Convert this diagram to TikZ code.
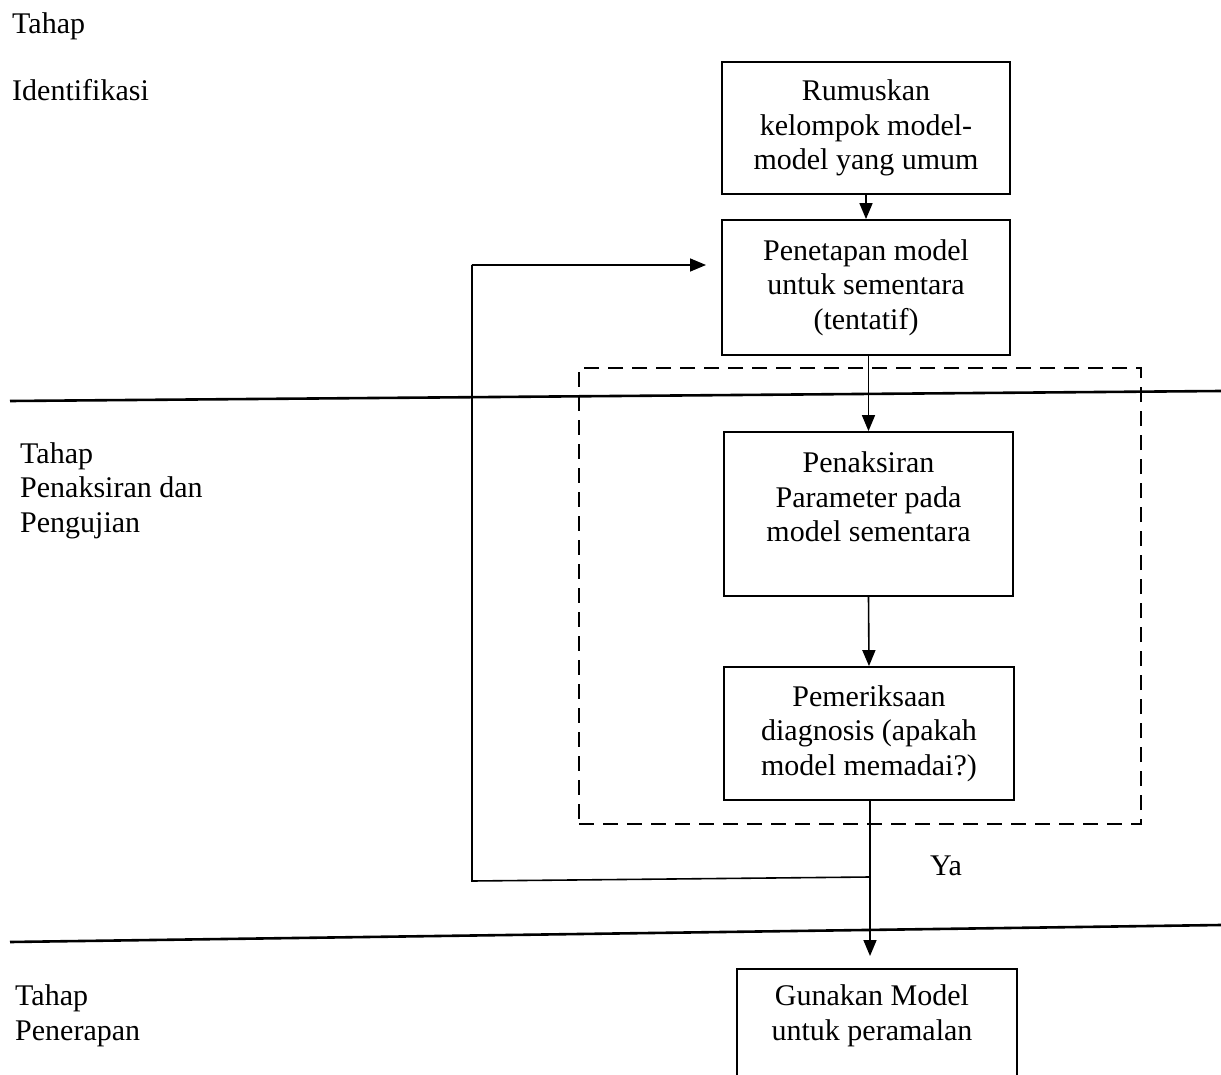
\documentclass[tikz,border=0pt]{standalone}
\usepackage{fontspec}
\setmainfont{Liberation Serif}
\usetikzlibrary{arrows.meta}
\tikzset{
  box/.style={draw, line width=1.8pt, align=center, inner sep=0pt},
  txt/.style={align=center, inner sep=0pt},
  lbl/.style={align=left, inner sep=0pt, anchor=base west},
  conn/.style={line width=1.6pt, -{Triangle[length=16pt,width=13pt]}},
  plain/.style={line width=1.6pt},
  divider/.style={line width=2.6pt},
  dbox/.style={draw, line width=2.4pt, dash pattern=on 15pt off 9pt}
}
\begin{document}
\begin{tikzpicture}[x=1pt,y=-1pt, every node/.style={font=\fontsize{30}{34.5}\selectfont}]
\useasboundingbox (0,0) rectangle (1221,1075);

% stage labels (anchor = baseline of last line)
\node[lbl] (t1a) at (12,34) {Tahap};
\node[lbl] (t1b) at (12,101) {Identifikasi};
\node[lbl] (t2) at (20,532) {Tahap\\Penaksiran dan\\Pengujian};
\node[lbl] (t3) at (15,1040) {Tahap\\Penerapan};

% dividers
\coordinate (d1a) at (10,401);
\coordinate (d1b) at (1221,391);
\coordinate (d2a) at (10,942);
\coordinate (d2b) at (1221,925);
\draw[divider] (d1a) -- (d1b);
\draw[divider] (d2a) -- (d2b);

% dashed frame
\node[dbox, minimum width=562, minimum height=456, anchor=north west] (frame) at (578,367) {};

% boxes
\node[box, minimum width=288, minimum height=132] (b1) at (866,128) {Rumuskan\\kelompok model-\\model yang umum};
\node[box, minimum width=288, minimum height=135] (b2) at (866,287.5) {Penetapan model\\untuk sementara\\(tentatif)};
\node[box, minimum width=289, minimum height=164] (b3) at (868.5,514) {};
\node[txt] (b3t) at (868.5,497) {Penaksiran\\Parameter pada\\model sementara};
\node[box, minimum width=290, minimum height=133] (b4) at (869,733.5) {Pemeriksaan\\diagnosis (apakah\\model memadai?)};
\node[box, minimum width=280, minimum height=160, anchor=north] (b5) at (877,968) {};
\node[txt] (b5t) at (872,1016) {Gunakan Model\\untuk peramalan};

% connectors
\draw[conn] (b1.south) -- (b2.north);
\draw[conn] (b3.north |- b2.south) -- (b3.north);
\draw[conn] (b3.south) -- (b4.north);
\coordinate (tip5) at (870,956);
\draw[conn] (b4.south -| tip5) -- (tip5);

% feedback loop
\coordinate (fb0) at (870,877);
\coordinate (fb1) at (472,881);
\coordinate (fb2) at (472,265);
\coordinate (fb3) at (706,265);
\draw[plain] (fb0) -- (fb1) -- (fb2);
\draw[conn] (fb2) -- (fb3);

\node (ya) at (946,866) {Ya};
\end{tikzpicture}
\end{document}
